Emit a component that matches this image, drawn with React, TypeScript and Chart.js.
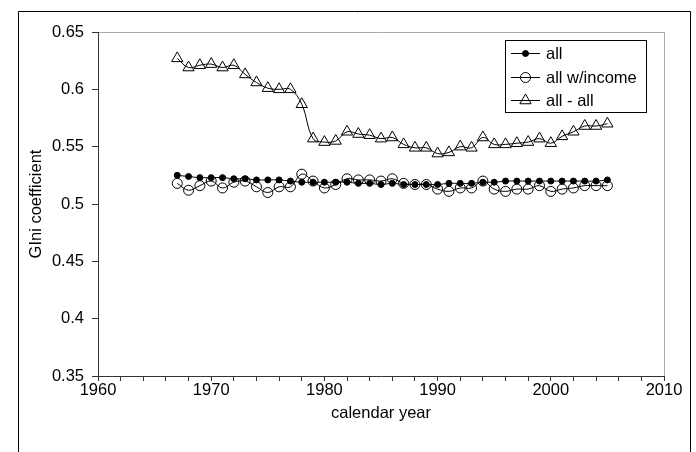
import React, { useEffect, useRef } from 'react';
import { Chart, registerables } from 'chart.js';

Chart.register(...registerables);

const years = [
  1967, 1968, 1969, 1970, 1971, 1972, 1973, 1974, 1975, 1976,
  1977, 1978, 1979, 1980, 1981, 1982, 1983, 1984, 1985, 1986,
  1987, 1988, 1989, 1990, 1991, 1992, 1993, 1994, 1995, 1996,
  1997, 1998, 1999, 2000, 2001, 2002, 2003, 2004, 2005,
];

const allValues = [
  0.525, 0.524, 0.523, 0.523, 0.523, 0.522, 0.522, 0.521, 0.521, 0.521,
  0.520, 0.519, 0.519, 0.519, 0.519, 0.519, 0.518, 0.518, 0.517, 0.518,
  0.517, 0.517, 0.517, 0.517, 0.518, 0.518, 0.518, 0.519, 0.519, 0.520,
  0.520, 0.520, 0.520, 0.520, 0.520, 0.520, 0.520, 0.520, 0.521,
];

const withIncomeValues = [
  0.518, 0.512, 0.516, 0.520, 0.514, 0.519, 0.520, 0.515, 0.510, 0.515,
  0.515, 0.526, 0.520, 0.514, 0.517, 0.522, 0.521, 0.521, 0.520, 0.522,
  0.518, 0.517, 0.517, 0.513, 0.511, 0.514, 0.514, 0.520, 0.513, 0.511,
  0.513, 0.513, 0.516, 0.511, 0.513, 0.514, 0.516, 0.516, 0.516,
];

const allAllValues = [
  0.627, 0.619, 0.621, 0.622, 0.619, 0.621, 0.613, 0.606, 0.601, 0.600,
  0.600, 0.587, 0.557, 0.554, 0.555, 0.563, 0.561, 0.560, 0.557, 0.558,
  0.552, 0.549, 0.549, 0.544, 0.545, 0.550, 0.549, 0.558, 0.552, 0.552,
  0.553, 0.554, 0.557, 0.553, 0.559, 0.563, 0.568, 0.568, 0.570,
];

const seriesNames = ['all', 'all w/income', 'all - all'];
const xLabelYears = [1960, 1970, 1980, 1990, 2000, 2010];
const yTickValues = [0.35, 0.4, 0.45, 0.5, 0.55, 0.6, 0.65];

const FONT = '"Liberation Sans", Arial, Helvetica, sans-serif';
const FS = 16.5;

function toPoints(values: number[]) {
  return years.map((yr, i) => ({ x: yr, y: values[i] }));
}

function drawMarker(ctx: CanvasRenderingContext2D, style: string, x: number, y: number, r: number, filled: boolean) {
  ctx.beginPath();
  if (style === 'triangle') {
    let rad = 0;
    const step = (2 * Math.PI) / 3;
    ctx.moveTo(x + Math.sin(rad) * r, y - Math.cos(rad) * r);
    rad += step;
    ctx.lineTo(x + Math.sin(rad) * r, y - Math.cos(rad) * r);
    rad += step;
    ctx.lineTo(x + Math.sin(rad) * r, y - Math.cos(rad) * r);
    ctx.closePath();
  } else {
    ctx.arc(x, y, r, 0, Math.PI * 2);
  }
  if (filled) {
    ctx.fillStyle = '#000';
    ctx.fill();
  }
  ctx.strokeStyle = '#000';
  ctx.lineWidth = 1;
  ctx.stroke();
}

const framePlugin = {
  id: 'framePlugin',
  beforeDraw(chart: any) {
    const { ctx, width, height, chartArea } = chart;
    ctx.save();
    ctx.fillStyle = '#fff';
    ctx.fillRect(0, 0, width, height);
    ctx.strokeStyle = '#000';
    ctx.lineWidth = 1;
    ctx.beginPath();
    ctx.moveTo(18.5, height + 5);
    ctx.lineTo(18.5, 11.5);
    ctx.lineTo(690.5, 11.5);
    ctx.lineTo(690.5, height + 5);
    ctx.stroke();
    ctx.strokeStyle = '#a8a8a8';
    ctx.beginPath();
    ctx.moveTo(chartArea.left, chartArea.top + 0.5);
    ctx.lineTo(chartArea.right + 0.5, chartArea.top + 0.5);
    ctx.lineTo(chartArea.right + 0.5, chartArea.bottom);
    ctx.stroke();
    ctx.restore();
  },
  afterDraw(chart: any) {
    const { ctx } = chart;
    const sets = chart.data.datasets;
    ctx.save();
    ctx.strokeStyle = '#000';
    ctx.lineWidth = 1;
    ctx.strokeRect(505.5, 40.5, 141, 72);
    ctx.font = `${FS}px ${FONT}`;
    ctx.textBaseline = 'middle';
    ctx.textAlign = 'left';
    const order = [2, 1, 0];
    order.forEach((di, row) => {
      const ds = sets[di];
      const y = Math.round(53 + row * 23.5);
      ctx.beginPath();
      ctx.moveTo(511, y + 0.5);
      ctx.lineTo(540, y + 0.5);
      ctx.strokeStyle = '#000';
      ctx.stroke();
      drawMarker(ctx, ds.pointStyle, 525.5, y + 0.5, ds.pointRadius, ds.pointBackgroundColor === '#000');
      ctx.fillStyle = '#000';
      ctx.fillText(ds.label, 546, y + 1);
    });
    ctx.restore();
  },
};

export default function App() {
  const ref = useRef<HTMLCanvasElement | null>(null);

  useEffect(() => {
    if (!ref.current) return;
    Chart.defaults.font.family = FONT;
    Chart.defaults.font.size = FS;
    Chart.defaults.color = '#000';

    const chart = new Chart(ref.current, {
      type: 'line',
      data: {
        datasets: [
          {
            label: seriesNames[2],
            data: toPoints(allAllValues),
            borderColor: '#000',
            borderWidth: 1,
            tension: 0.4,
            pointStyle: 'triangle',
            pointRadius: 6.5,
            pointBorderWidth: 1,
            pointBorderColor: '#000',
            pointBackgroundColor: 'rgba(0,0,0,0)',
            fill: false,
          },
          {
            label: seriesNames[1],
            data: toPoints(withIncomeValues),
            borderColor: '#000',
            borderWidth: 1,
            tension: 0.4,
            pointStyle: 'circle',
            pointRadius: 5,
            pointBorderWidth: 1,
            pointBorderColor: '#000',
            pointBackgroundColor: 'rgba(0,0,0,0)',
            fill: false,
          },
          {
            label: seriesNames[0],
            data: toPoints(allValues),
            borderColor: '#000',
            borderWidth: 1,
            tension: 0.4,
            pointStyle: 'circle',
            pointRadius: 3,
            pointBorderWidth: 1,
            pointBorderColor: '#000',
            pointBackgroundColor: '#000',
            fill: false,
          },
        ],
      },
      options: {
        responsive: false,
        animation: false,
        events: [],
        layout: { padding: { left: 0, right: 32, top: 32, bottom: 0 } },
        plugins: {
          legend: { display: false },
          tooltip: { enabled: false },
        },
        scales: {
          x: {
            type: 'linear',
            min: 1960,
            max: 2010,
            ticks: {
              stepSize: 2,
              autoSkip: false,
              maxRotation: 0,
              minRotation: 0,
              padding: 0,
              color: '#000',
              font: { size: FS },
              callback: (v: any) => (xLabelYears.includes(Number(v)) ? String(v) : ''),
            },
            grid: { drawOnChartArea: false, drawTicks: true, tickLength: 5, color: '#333' },
            border: { display: true, color: '#333', width: 1 },
            title: {
              display: true,
              text: 'calendar year',
              color: '#000',
              font: { size: FS },
              padding: { top: 0, bottom: 29 },
            },
            afterFit: (s: any) => {
              s.height = 76;
            },
          },
          y: {
            type: 'linear',
            min: 0.35,
            max: 0.65,
            afterBuildTicks: (s: any) => {
              s.ticks = yTickValues.map((v) => ({ value: v }));
            },
            ticks: {
              padding: 8,
              color: '#000',
              font: { size: FS },
              callback: (v: any) => String(Math.round(Number(v) * 100) / 100),
            },
            grid: { drawOnChartArea: false, drawTicks: true, tickLength: 6, color: '#333' },
            border: { display: true, color: '#333', width: 1 },
            title: {
              display: true,
              text: 'GIni coefficient',
              color: '#000',
              font: { size: FS },
              padding: { top: 27, bottom: 0 },
            },
            afterFit: (s: any) => {
              s.width = 98;
            },
          },
        },
      } as any,
      plugins: [framePlugin],
    });
    return () => chart.destroy();
  }, []);

  return (
    <div style={{ position: 'absolute', left: 0, top: 0, width: 696, height: 452 }}>
      <canvas ref={ref} width={696} height={452} style={{ width: 696, height: 452, display: 'block' }} />
    </div>
  );
}
